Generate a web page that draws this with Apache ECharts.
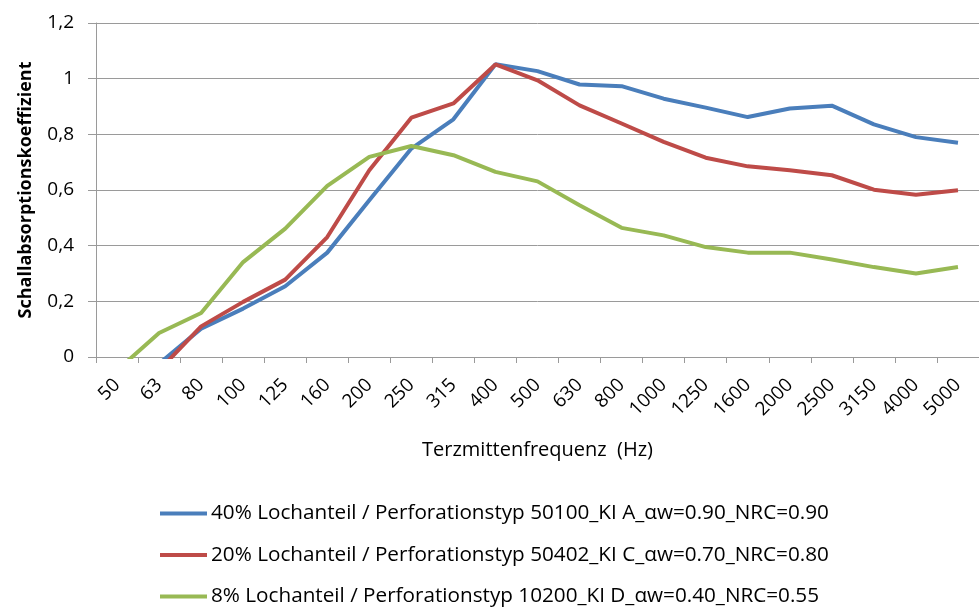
<!DOCTYPE html>
<html><head><meta charset="utf-8">
<script src="https://cdn.jsdelivr.net/npm/echarts@6/dist/echarts.min.js"></script>
<style>html,body{margin:0;padding:0;background:#fff}#c{width:979px;height:610px}</style>
</head><body><div id="c"></div>
<script>
const categories = ['50','63','80','100','125','160','200','250','315','400','500','630','800','1000','1250','1600','2000','2500','3150','4000','5000'];
const yTicks = [0, 0.2, 0.4, 0.6, 0.8, 1.0, 1.2];
const seriesNames = [
  '40% Lochanteil / Perforationstyp 50100_KI A_αw=0.90_NRC=0.90',
  '20% Lochanteil / Perforationstyp 50402_KI C_αw=0.70_NRC=0.80',
  '8% Lochanteil / Perforationstyp 10200_KI D_αw=0.40_NRC=0.55'
];
const blueValues  = [-0.1, -0.024, 0.102, 0.174, 0.254, 0.375, 0.563, 0.749, 0.854, 1.052, 1.027, 0.979, 0.973, 0.928, 0.896, 0.862, 0.893, 0.903, 0.836, 0.790, 0.770];
const redValues   = [-0.1, -0.048, 0.11, 0.198, 0.278, 0.431, 0.671, 0.860, 0.911, 1.051, 0.994, 0.904, 0.839, 0.773, 0.716, 0.685, 0.671, 0.653, 0.601, 0.583, 0.599];
const greenValues = [-0.048, 0.086, 0.158, 0.341, 0.461, 0.615, 0.719, 0.758, 0.725, 0.665, 0.631, 0.545, 0.464, 0.437, 0.395, 0.375, 0.375, 0.350, 0.323, 0.300, 0.323];
const colors = ['#4a7ebb', '#be4b48', '#98b954'];

const FONT = 'Open Sans';
const chart = echarts.init(document.getElementById('c'), null, {renderer: 'canvas'});
const mk = (name, data, color) => ({
  name, type: 'line', data, symbol: 'none', clip: true,
  lineStyle: {color, width: 4}, itemStyle: {color}
});
chart.setOption({
  animation: false,
  textStyle: {fontFamily: FONT},
  grid: {left: 96, top: 23, width: 884, height: 334, containLabel: false},
  legend: {
    orient: 'vertical', left: 155, top: 503, height: 106, itemGap: 20.5,
    padding: [0, 5, 0, 5],
    itemWidth: 47, itemHeight: 4, icon: 'rect',
    textStyle: {fontFamily: FONT, fontSize: 20.7, color: '#000', padding: [0, 0, 0, -1]},
    data: seriesNames
  },
  xAxis: {
    type: 'category', data: categories, boundaryGap: true,
    name: 'Terzmittenfrequenz  (Hz)', nameLocation: 'middle', nameGap: 83,
    nameTextStyle: {fontFamily: FONT, fontSize: 20, color: '#000'},
    axisLine: {lineStyle: {color: '#9a9a9a', width: 1}},
    axisTick: {show: true, length: 6, lineStyle: {color: '#9a9a9a'}},
    axisLabel: {interval: 0, rotate: 45, fontSize: 19, color: '#000', margin: 25, fontFamily: FONT},
    splitLine: {show: false}
  },
  yAxis: {
    type: 'value', min: yTicks[0], max: yTicks[yTicks.length - 1], interval: 0.2,
    name: 'Schallabsorptionskoeffizient', nameLocation: 'middle', nameGap: 61,
    nameTextStyle: {fontFamily: FONT, fontSize: 18, fontWeight: 'bold', color: '#000'},
    axisLine: {show: true, lineStyle: {color: '#9a9a9a', width: 1}},
    axisTick: {show: true, length: 8, lineStyle: {color: '#9a9a9a'}},
    axisLabel: {fontSize: 19, color: '#000', margin: 22, fontFamily: FONT,
      formatter: v => String(Math.round(v * 10) / 10).replace('.', ',')},
    splitLine: {show: true, lineStyle: {color: '#9a9a9a', width: 1}}
  },
  series: [
    mk(seriesNames[0], blueValues, colors[0]),
    mk(seriesNames[1], redValues, colors[1]),
    mk(seriesNames[2], greenValues, colors[2])
  ]
});
</script></body></html>
